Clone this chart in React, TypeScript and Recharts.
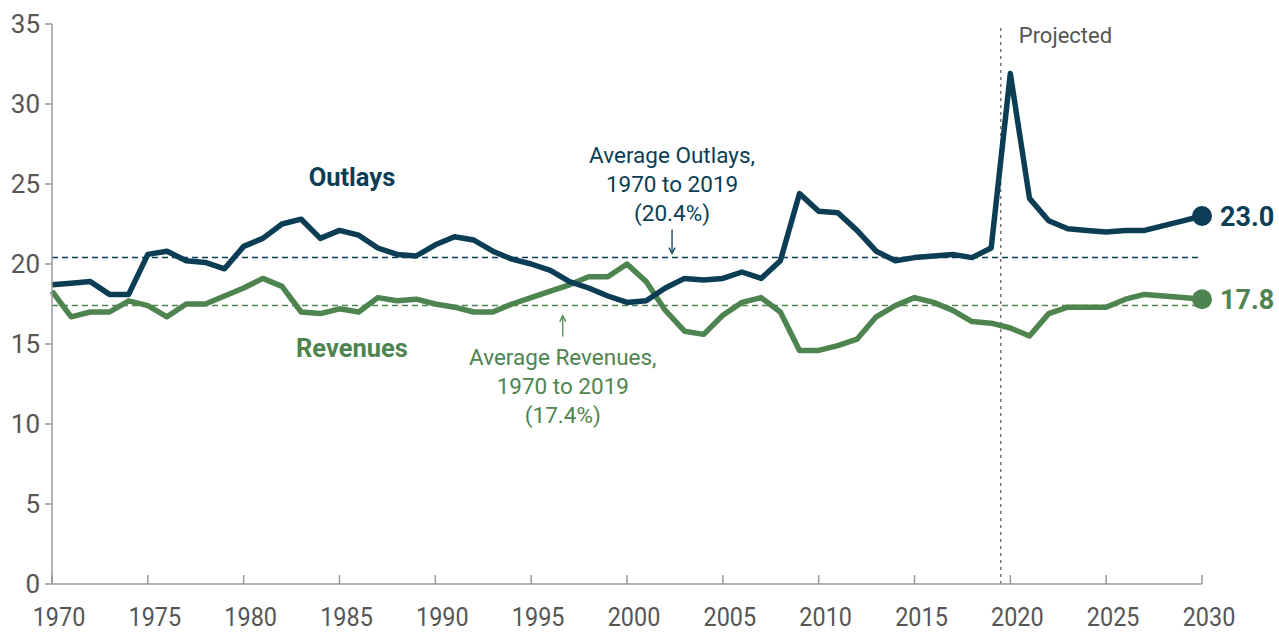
import { LineChart, Line, XAxis, YAxis, ReferenceLine, ReferenceDot } from 'recharts';

// fiscal years, actual through 2019 and projected after
const YEARS = [
  1970, 1971, 1972, 1973, 1974, 1975, 1976, 1977, 1978, 1979,
  1980, 1981, 1982, 1983, 1984, 1985, 1986, 1987, 1988, 1989,
  1990, 1991, 1992, 1993, 1994, 1995, 1996, 1997, 1998, 1999,
  2000, 2001, 2002, 2003, 2004, 2005, 2006, 2007, 2008, 2009,
  2010, 2011, 2012, 2013, 2014, 2015, 2016, 2017, 2018, 2019,
  2020, 2021, 2022, 2023, 2024, 2025, 2026, 2027, 2028, 2029, 2030,
];

// percent of GDP
const OUTLAYS = [
  18.7, 18.8, 18.9, 18.1, 18.1, 20.6, 20.8, 20.2, 20.1, 19.7,
  21.1, 21.6, 22.5, 22.8, 21.6, 22.1, 21.8, 21.0, 20.6, 20.5,
  21.2, 21.7, 21.5, 20.8, 20.3, 20.0, 19.6, 18.9, 18.5, 18.0,
  17.6, 17.7, 18.5, 19.1, 19.0, 19.1, 19.5, 19.1, 20.2, 24.4,
  23.3, 23.2, 22.1, 20.8, 20.2, 20.4, 20.5, 20.6, 20.4, 21.0,
  31.9, 24.1, 22.7, 22.2, 22.1, 22.0, 22.1, 22.1, 22.4, 22.7, 23.0,
];

const REVENUES = [
  18.3, 16.7, 17.0, 17.0, 17.7, 17.4, 16.7, 17.5, 17.5, 18.0,
  18.5, 19.1, 18.6, 17.0, 16.9, 17.2, 17.0, 17.9, 17.7, 17.8,
  17.5, 17.3, 17.0, 17.0, 17.5, 17.9, 18.3, 18.7, 19.2, 19.2,
  20.0, 18.9, 17.1, 15.8, 15.6, 16.8, 17.6, 17.9, 17.0, 14.6,
  14.6, 14.9, 15.3, 16.7, 17.4, 17.9, 17.6, 17.1, 16.4, 16.3,
  16.0, 15.5, 16.9, 17.3, 17.3, 17.3, 17.8, 18.1, 18.0, 17.9, 17.8,
];

const X_TICKS = [1970, 1975, 1980, 1985, 1990, 1995, 2000, 2005, 2010, 2015, 2020, 2025, 2030];
const Y_TICKS = [0, 5, 10, 15, 20, 25, 30, 35];

const AVG_OUTLAYS = 20.4;
const AVG_REVENUES = 17.4;
const PROJECTION_START = 2019.5;

const OUTLAY_NOTE_X = 2002.35;
const REVENUE_NOTE_X = 1996.65;
const SERIES_LABEL_X = 1985.65;
const OUTLAY_LABEL_Y = 24.9;
const REVENUE_LABEL_Y = 14.2;

const OUTLAY_COLOR = '#0b3d55';
const REVENUE_COLOR = '#4e8450';
const AXIS_COLOR = '#9a9a9a';
const TEXT_COLOR = '#555555';
const FONT = 'Roboto, "Open Sans", sans-serif';

const X_TICK_MARGIN = 10;

const data = YEARS.map((year, i) => ({ year, outlays: OUTLAYS[i], revenues: REVENUES[i] }));
const lastIndex = data.length - 1;

function XTick(props: any) {
  const { x, y, payload } = props;
  const axisY = y - X_TICK_MARGIN;
  const tx = x + 7;
  return (
    <g>
      <line x1={x} x2={x} y1={axisY} y2={axisY - 9} stroke={AXIS_COLOR} strokeWidth={1.5} />
      <text
        x={tx}
        y={axisY + 42}
        textAnchor="middle"
        fill={TEXT_COLOR}
        fontSize={26}
        fontFamily={FONT}
        transform={`translate(${tx} 0) scale(0.9 1) translate(${-tx} 0)`}
      >
        {payload.value}
      </text>
    </g>
  );
}

function endDot(color: string, key: 'outlays' | 'revenues') {
  return (props: any) => {
    const { cx, cy, index, payload } = props;
    if (index !== lastIndex) return <g key={`${key}-${index}`} />;
    return (
      <g key={`${key}-${index}`}>
        <circle cx={cx} cy={cy} r={10} fill={color} />
        <text x={cx + 18} y={cy} dy="0.36em" fill={color} fontSize={27} fontWeight={700} fontFamily={FONT}>
          {payload[key].toFixed(1)}
        </text>
      </g>
    );
  };
}

function ProjectedLabel(props: any) {
  const { viewBox } = props;
  return (
    <text x={viewBox.x + 18} y={viewBox.y + 19} fill={TEXT_COLOR} fontSize={22} fontFamily={FONT}>
      Projected
    </text>
  );
}

function seriesLabel(text: string, color: string) {
  return (props: any) => (
    <text x={props.cx} y={props.cy} textAnchor="middle" fill={color} fontSize={25.5} fontWeight={700} fontFamily={FONT}>
      {text}
    </text>
  );
}

function outlayNote(props: any) {
  const { cx, cy } = props;
  return (
    <g fill={OUTLAY_COLOR} fontSize={22.5} fontFamily={FONT} textAnchor="middle">
      <text x={cx} y={cy - 95}>Average Outlays,</text>
      <text x={cx} y={cy - 66}>1970 to 2019</text>
      <text x={cx} y={cy - 37}>(20.4%)</text>
      <line x1={cx} x2={cx} y1={cy - 28} y2={cy - 6} stroke={OUTLAY_COLOR} strokeWidth={1.3} />
      <path d={`M${cx - 3},${cy - 10} L${cx},${cy - 4} L${cx + 3},${cy - 10}`} fill="none" stroke={OUTLAY_COLOR} strokeWidth={1.3} />
    </g>
  );
}

function revenueNote(props: any) {
  const { cx, cy } = props;
  return (
    <g fill={REVENUE_COLOR} fontSize={22.5} fontFamily={FONT} textAnchor="middle">
      <line x1={cx} x2={cx} y1={cy + 31} y2={cy + 12} stroke={REVENUE_COLOR} strokeWidth={1.3} />
      <path d={`M${cx - 3},${cy + 16} L${cx},${cy + 10} L${cx + 3},${cy + 16}`} fill="none" stroke={REVENUE_COLOR} strokeWidth={1.3} />
      <text x={cx} y={cy + 59}>Average Revenues,</text>
      <text x={cx} y={cy + 88}>1970 to 2019</text>
      <text x={cx} y={cy + 117}>(17.4%)</text>
    </g>
  );
}

export default function App() {
  return (
    <div style={{ position: 'absolute', left: 0, top: 0, width: 1279, height: 632, background: '#fff' }}>
      <LineChart width={1279} height={632} data={data} margin={{ top: 24, right: 77, bottom: 0, left: 0 }}>
        <XAxis
          dataKey="year"
          type="number"
          domain={[1970, 2030]}
          ticks={X_TICKS}
          interval={0}
          height={48}
          stroke={AXIS_COLOR}
          strokeWidth={1.5}
          tickSize={0}
          tickMargin={X_TICK_MARGIN}
          tick={<XTick />}
        />
        <YAxis
          type="number"
          domain={[0, 35]}
          ticks={Y_TICKS}
          interval={0}
          width={52}
          stroke={AXIS_COLOR}
          strokeWidth={1.5}
          tickSize={7}
          tickMargin={5}
          tick={{ fill: TEXT_COLOR, fontSize: 26, fontFamily: FONT }}
        />
        <ReferenceLine y={AVG_OUTLAYS} stroke={OUTLAY_COLOR} strokeDasharray="6 4" strokeWidth={1.5} />
        <ReferenceLine y={AVG_REVENUES} stroke={REVENUE_COLOR} strokeDasharray="6 4" strokeWidth={1.5} />
        <ReferenceLine
          x={PROJECTION_START}
          stroke="#777"
          strokeDasharray="3 4"
          strokeWidth={1.5}
          label={<ProjectedLabel />}
        />
        <Line
          type="linear"
          dataKey="revenues"
          stroke={REVENUE_COLOR}
          strokeWidth={5.5}
          strokeLinejoin="round"
          dot={endDot(REVENUE_COLOR, 'revenues')}
          activeDot={false}
          isAnimationActive={false}
        />
        <Line
          type="linear"
          dataKey="outlays"
          stroke={OUTLAY_COLOR}
          strokeWidth={5.5}
          strokeLinejoin="round"
          dot={endDot(OUTLAY_COLOR, 'outlays')}
          activeDot={false}
          isAnimationActive={false}
        />
        <ReferenceDot x={SERIES_LABEL_X} y={OUTLAY_LABEL_Y} r={1} shape={seriesLabel('Outlays', OUTLAY_COLOR)} />
        <ReferenceDot x={SERIES_LABEL_X} y={REVENUE_LABEL_Y} r={1} shape={seriesLabel('Revenues', REVENUE_COLOR)} />
        <ReferenceDot x={OUTLAY_NOTE_X} y={AVG_OUTLAYS} r={1} shape={outlayNote} />
        <ReferenceDot x={REVENUE_NOTE_X} y={AVG_REVENUES} r={1} shape={revenueNote} />
      </LineChart>
    </div>
  );
}
